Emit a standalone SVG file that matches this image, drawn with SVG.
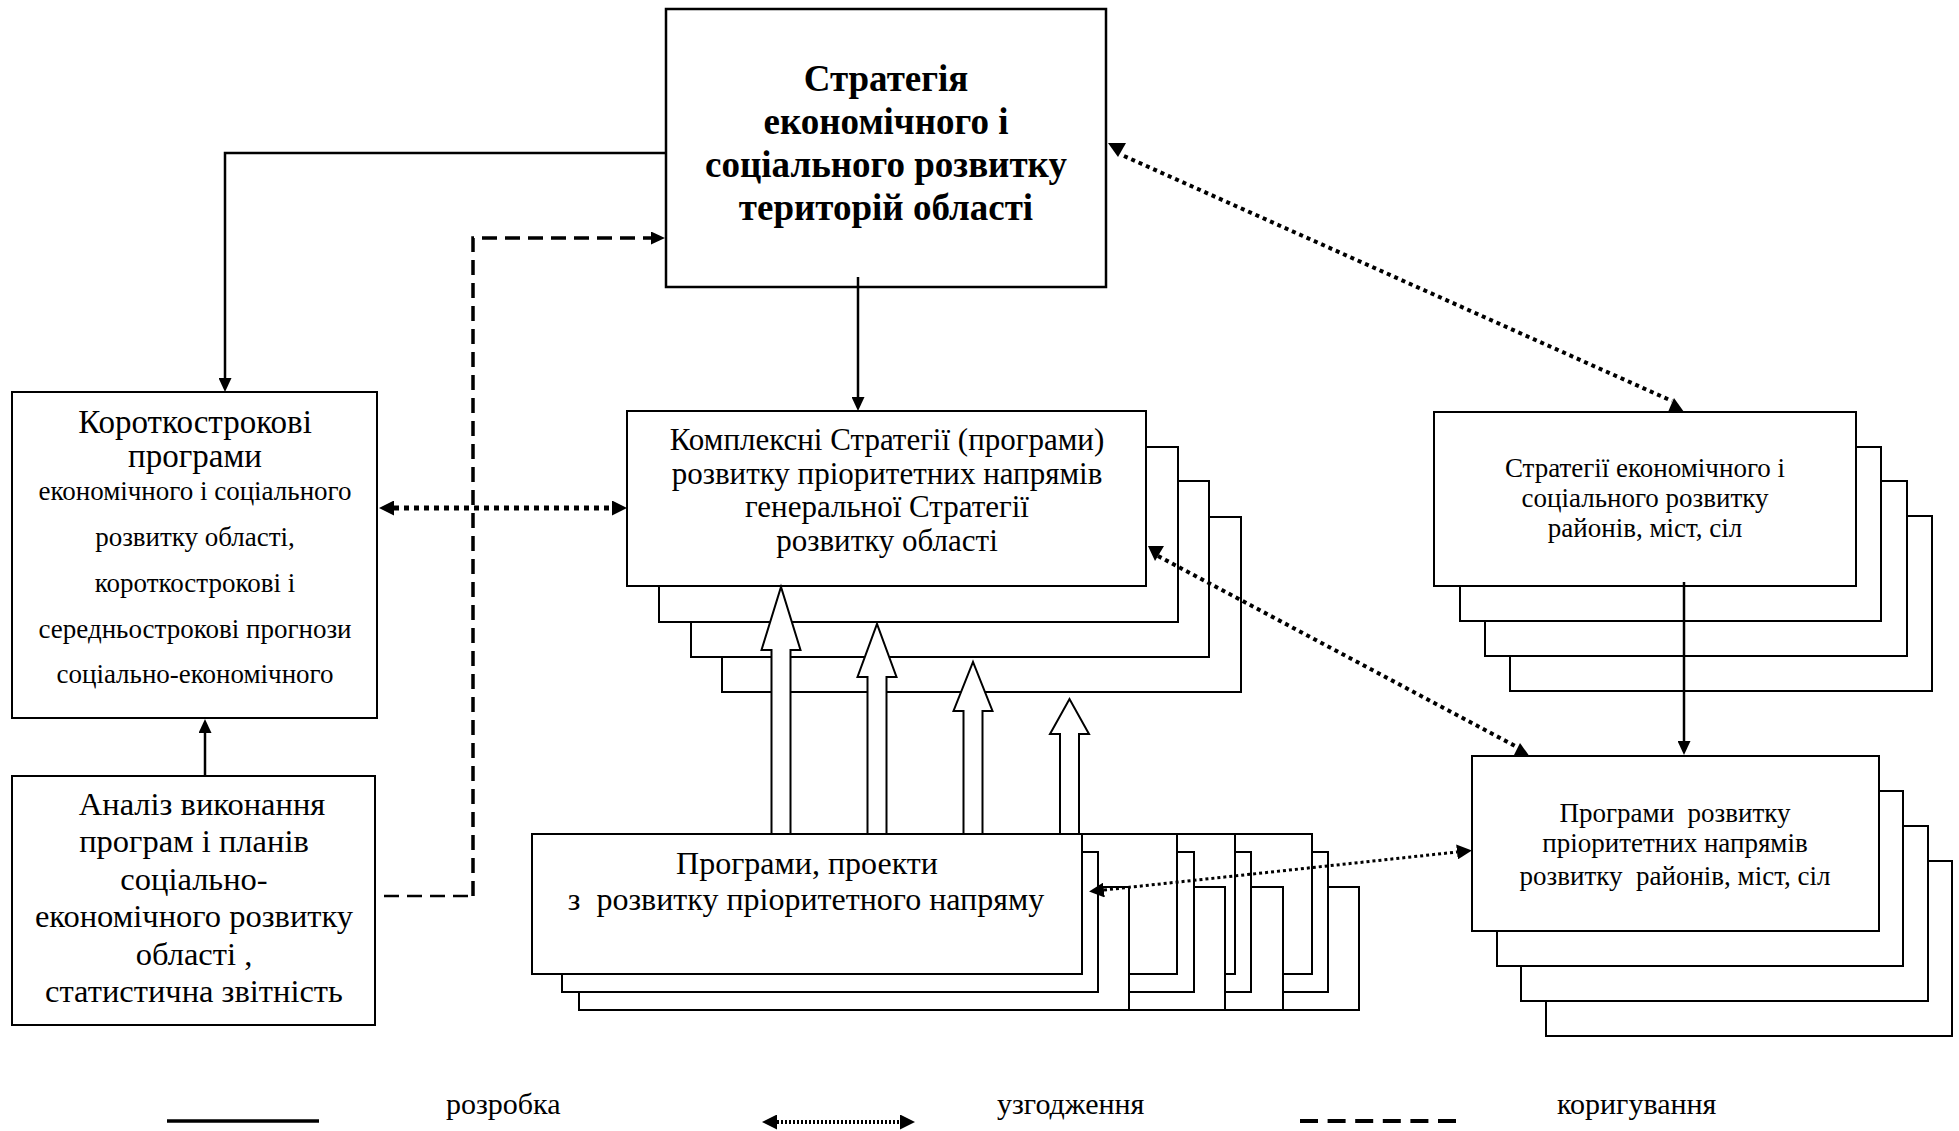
<svg xmlns="http://www.w3.org/2000/svg" width="1959" height="1131" viewBox="0 0 1959 1131">
<style>
.bx{fill:#fff;stroke:#000;stroke-width:2}
.t{font-family:"Liberation Serif","Times New Roman",serif;fill:#000;text-anchor:middle}
.b{font-weight:bold}
.l{font-family:"Liberation Serif","Times New Roman",serif;fill:#000}
.sol{fill:none;stroke:#000;stroke-width:2.5}
.dot{fill:none;stroke:#000;stroke-width:5;stroke-dasharray:5 5}
.dot2{fill:none;stroke:#000;stroke-width:4;stroke-dasharray:4 4}
.dot3{fill:none;stroke:#000;stroke-width:3;stroke-dasharray:3 3}
.dash{fill:none;stroke:#000;stroke-width:3.5;stroke-dasharray:15 8}
.hol{fill:#fff;stroke:#000;stroke-width:2}
.head{fill:#000}
</style>
<defs>
<marker id="as" markerUnits="userSpaceOnUse" viewBox="0 0 14 13" markerWidth="14" markerHeight="13" refX="0" refY="6.5" orient="auto-start-reverse"><path d="M0,0 L14,6.5 L0,13 z"/></marker>
<marker id="ad" markerUnits="userSpaceOnUse" viewBox="0 0 15 15" markerWidth="15" markerHeight="15" refX="0" refY="7.5" orient="auto-start-reverse"><path d="M0,0 L15,7.5 L0,15 z"/></marker>
</defs>

<!-- center stack -->
<g id="node-complex">
<rect class="bx" x="722" y="517" width="519" height="175"/>
<rect class="bx" x="691" y="481" width="518" height="176"/>
<rect class="bx" x="659" y="447" width="519" height="175"/>
<rect class="bx" x="627" y="411" width="519" height="175"/>
<text class="t" font-size="31" x="887" y="450">Комплексні Стратегії (програми)</text>
<text class="t" font-size="31" x="887" y="484">розвитку пріоритетних напрямів</text>
<text class="t" font-size="31" x="887" y="517">генеральної Стратегії</text>
<text class="t" font-size="31" x="887" y="551">розвитку області</text>
</g>

<!-- bottom center stacks -->
<g id="node-projects">
<rect class="bx" x="809" y="887" width="550" height="123"/>
<rect class="bx" x="792" y="852" width="536" height="140"/>
<rect class="bx" x="762" y="834" width="550" height="140"/>
<rect class="bx" x="732" y="887" width="551" height="123"/>
<rect class="bx" x="715" y="852" width="536" height="140"/>
<rect class="bx" x="685" y="834" width="550" height="140"/>
<rect class="bx" x="674" y="887" width="551" height="123"/>
<rect class="bx" x="657" y="852" width="537" height="140"/>
<rect class="bx" x="627" y="834" width="550" height="140"/>
<rect class="bx" x="579" y="887" width="550" height="123"/>
<rect class="bx" x="562" y="852" width="536" height="140"/>
<rect class="bx" x="532" y="834" width="550" height="140"/>
<text class="t" font-size="32" x="807" y="874">Програми, проекти</text>
<text class="t" font-size="32" x="806" y="910" xml:space="preserve">з  розвитку пріоритетного напряму</text>
</g>

<!-- top box -->
<g id="node-strategy">
<rect class="bx" x="666" y="9" width="440" height="278" style="stroke-width:2.5"/>
<text class="t b" font-size="37" x="886" y="91">Стратегія</text>
<text class="t b" font-size="37" x="886" y="134">економічного і</text>
<text class="t b" font-size="37" x="886" y="177">соціального розвитку</text>
<text class="t b" font-size="37" x="886" y="220">територій області</text>
</g>

<!-- left box -->
<g id="node-short">
<rect class="bx" x="12" y="392" width="365" height="326"/>
<text class="t" font-size="33" x="195" y="433">Короткострокові</text>
<text class="t" font-size="33" x="195" y="467">програми</text>
<text class="t" font-size="27" x="195" y="500">економічного і соціального</text>
<text class="t" font-size="27" x="195" y="546">розвитку області,</text>
<text class="t" font-size="27" x="195" y="592">короткострокові і</text>
<text class="t" font-size="27" x="195" y="638">середньострокові прогнози</text>
<text class="t" font-size="27" x="195" y="683">соціально-економічного</text>
</g>

<!-- analysis box -->
<g id="node-analysis">
<rect class="bx" x="12" y="776" width="363" height="249"/>
<text class="t" font-size="32.5" x="202" y="815">Аналіз виконання</text>
<text class="t" font-size="32.5" x="194" y="852">програм і планів</text>
<text class="t" font-size="32.5" x="194" y="890">соціально-</text>
<text class="t" font-size="32.5" x="194" y="927">економічного розвитку</text>
<text class="t" font-size="32.5" x="194" y="965">області ,</text>
<text class="t" font-size="32.5" x="194" y="1002">статистична звітність</text>
</g>

<!-- right top stack -->
<g id="node-district-strategy">
<rect class="bx" x="1510" y="516" width="422" height="175"/>
<rect class="bx" x="1485" y="481" width="422" height="175"/>
<rect class="bx" x="1460" y="447" width="421" height="174"/>
<rect class="bx" x="1434" y="412" width="422" height="174"/>
<text class="t" font-size="27" x="1645" y="477">Стратегії економічного і</text>
<text class="t" font-size="27" x="1645" y="507">соціального розвитку</text>
<text class="t" font-size="27" x="1645" y="537">районів, міст, сіл</text>
</g>

<!-- right bottom stack -->
<g id="node-district-programs">
<rect class="bx" x="1546" y="861" width="406" height="175"/>
<rect class="bx" x="1521" y="826" width="407" height="175"/>
<rect class="bx" x="1497" y="791" width="406" height="175"/>
<rect class="bx" x="1472" y="756" width="407" height="175"/>
<text class="t" font-size="27" x="1675" y="822" xml:space="preserve">Програми  розвитку</text>
<text class="t" font-size="27" x="1675" y="852">пріоритетних напрямів</text>
<text class="t" font-size="27" x="1675" y="885" xml:space="preserve">розвитку  районів, міст, сіл</text>
</g>

<!-- connectors -->
<g id="connectors">
<path class="sol" d="M666,153 H225 V378" marker-end="url(#as)"/>
<path class="sol" d="M858,277 V397" marker-end="url(#as)"/>
<path class="sol" d="M205,776 V733" marker-end="url(#as)"/>
<path class="sol" d="M1684,582 V741" marker-end="url(#as)"/>
<path class="dot" d="M394,508 H612" marker-start="url(#ad)" marker-end="url(#ad)"/>
<path class="dot2" d="M1124,156 L1672,401"/>
<polygon class="head" points="1108,143 1126,143 1118,157"/>
<polygon class="head" points="1668,412 1684,412 1674,398"/>
<path class="dot2" d="M1158,556 L1517,747"/>
<polygon class="head" points="1148,546 1164,546 1155,561"/>
<polygon class="head" points="1513,757 1530,757 1520,743"/>
<path class="dot3" d="M1104,890 L1457,852" marker-start="url(#ad)" marker-end="url(#ad)"/>
<path class="dash" d="M384,896 H473" style="stroke-width:2.5"/>
<path class="dash" d="M473,896 V238 H651" marker-end="url(#as)"/>
<polygon class="hol" points="771.5,834 771.5,650 761.5,650 781,587 800.5,650 790.5,650 790.5,834"/>
<polygon class="hol" points="867.5,834 867.5,677 857.5,677 877,624 896.5,677 886.5,677 886.5,834"/>
<polygon class="hol" points="963.5,834 963.5,711 953.5,711 973,662 992.5,711 982.5,711 982.5,834"/>
<polygon class="hol" points="1060,834 1060,734 1050,734 1069.5,699 1089,734 1079,734 1079,834"/>
</g>

<!-- legend -->
<g id="legend">
<path d="M167,1121 H319" stroke="#000" stroke-width="3.5"/>
<text class="l" font-size="30" x="446" y="1114">розробка</text>
<path d="M777,1122 H900" stroke="#000" stroke-width="4" stroke-dasharray="2 2" marker-start="url(#ad)" marker-end="url(#ad)"/>
<text class="l" font-size="30" x="997" y="1114">узгодження</text>
<path d="M1300,1121 H1456" stroke="#000" stroke-width="4" stroke-dasharray="18 9.6"/>
<text class="l" font-size="30" x="1557" y="1114">коригування</text>
</g>
</svg>
